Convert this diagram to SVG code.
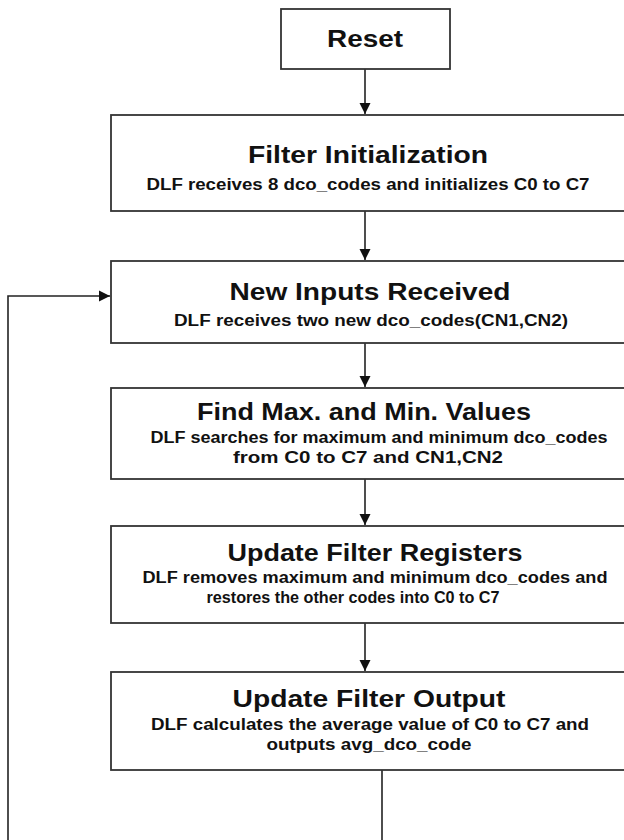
<svg xmlns="http://www.w3.org/2000/svg" width="624" height="840" viewBox="0 0 624 840">
<style>
.box{fill:#fff;stroke:#333;stroke-width:1.8}
.t{font-family:"Liberation Sans",Arial,sans-serif;font-weight:bold;fill:#111;text-anchor:middle}
.h{font-size:24.5px}
.s{font-size:16px}
.c{fill:none;stroke:#222;stroke-width:1.6}
</style>
<defs>
<marker id="ah" markerUnits="userSpaceOnUse" markerWidth="12" markerHeight="12" refX="11" refY="6" orient="auto">
<path d="M0,0.5 L11,6 L0,11.5 z" fill="#111"/>
</marker>
</defs>
<rect width="624" height="840" fill="#fff"/>
<g id="connectors">
<line class="c" x1="365" y1="69" x2="365" y2="114" marker-end="url(#ah)"/>
<line class="c" x1="365" y1="211" x2="365" y2="260" marker-end="url(#ah)"/>
<line class="c" x1="365" y1="343" x2="365" y2="387" marker-end="url(#ah)"/>
<line class="c" x1="365" y1="479" x2="365" y2="525" marker-end="url(#ah)"/>
<line class="c" x1="365" y1="623" x2="365" y2="671" marker-end="url(#ah)"/>
<polyline class="c" points="382,770 382,846 8,846 8,296 110,296" marker-end="url(#ah)"/>
</g>
<g id="reset">
<rect class="box" x="281" y="9" width="169" height="60"/>
<text class="t h" x="365" y="47" textLength="76" lengthAdjust="spacingAndGlyphs">Reset</text>
</g>
<g id="filter-init">
<rect class="box" x="111" y="115" width="516" height="96"/>
<text class="t h" x="368" y="163" textLength="240" lengthAdjust="spacingAndGlyphs">Filter Initialization</text>
<text class="t s" x="368" y="190" textLength="443" lengthAdjust="spacingAndGlyphs">DLF receives 8 dco_codes and initializes C0 to C7</text>
</g>
<g id="new-inputs">
<rect class="box" x="111" y="261" width="516" height="82"/>
<text class="t h" x="370" y="300" textLength="281" lengthAdjust="spacingAndGlyphs">New Inputs Received</text>
<text class="t s" x="371" y="326" textLength="394" lengthAdjust="spacingAndGlyphs">DLF receives two new dco_codes(CN1,CN2)</text>
</g>
<g id="find-max-min">
<rect class="box" x="111" y="388" width="516" height="91"/>
<text class="t h" x="364" y="420" textLength="334" lengthAdjust="spacingAndGlyphs">Find Max. and Min. Values</text>
<text class="t s" x="379" y="443" textLength="457" lengthAdjust="spacingAndGlyphs">DLF searches for maximum and minimum dco_codes</text>
<text class="t s" x="368" y="463" textLength="270" lengthAdjust="spacingAndGlyphs">from C0 to C7 and CN1,CN2</text>
</g>
<g id="update-registers">
<rect class="box" x="111" y="526" width="516" height="97"/>
<text class="t h" x="375" y="561" textLength="295" lengthAdjust="spacingAndGlyphs">Update Filter Registers</text>
<text class="t s" x="375" y="583" textLength="465" lengthAdjust="spacingAndGlyphs">DLF removes maximum and minimum dco_codes and</text>
<text class="t s" x="353" y="603" textLength="293" lengthAdjust="spacingAndGlyphs">restores the other codes into C0 to C7</text>
</g>
<g id="update-output">
<rect class="box" x="111" y="672" width="516" height="98"/>
<text class="t h" x="369" y="707" textLength="273" lengthAdjust="spacingAndGlyphs">Update Filter Output</text>
<text class="t s" x="370" y="730" textLength="438" lengthAdjust="spacingAndGlyphs">DLF calculates the average value of C0 to C7 and</text>
<text class="t s" x="369" y="750" textLength="205" lengthAdjust="spacingAndGlyphs">outputs avg_dco_code</text>
</g>
</svg>
